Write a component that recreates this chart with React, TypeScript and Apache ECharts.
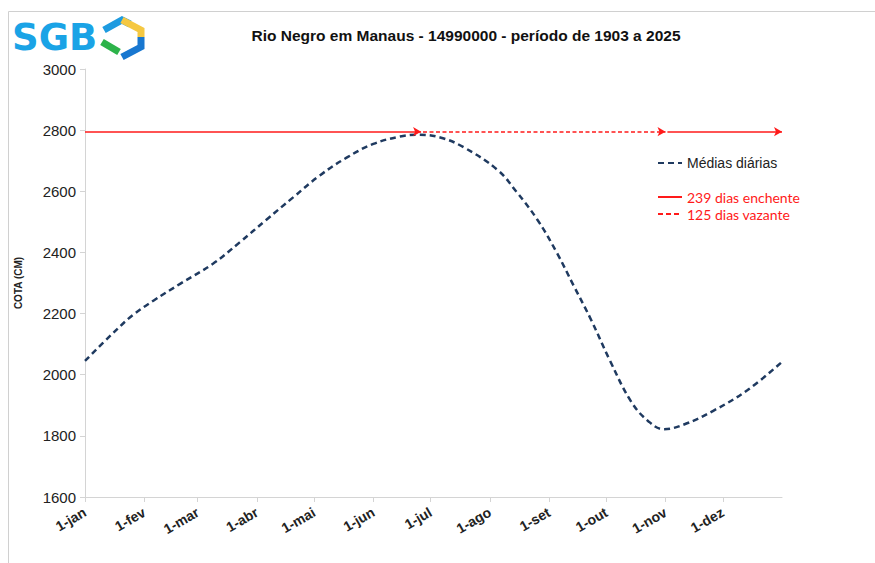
import React, { useEffect, useRef } from "react";
import * as echarts from "echarts";

const monthDays = [0, 31, 59, 90, 120, 151, 181, 212, 243, 273, 304, 334];
const monthLabels = ["1-jan", "1-fev", "1-mar", "1-abr", "1-mai", "1-jun", "1-jul", "1-ago", "1-set", "1-out", "1-nov", "1-dez"];

const days = [0, 14, 25, 36, 50, 67, 81, 95, 109, 123, 137, 151, 165, 175, 186, 198, 216, 226, 237, 247, 256, 265, 275, 286, 295, 303, 314, 329, 347, 365];
const cota = [2045, 2132, 2195, 2243, 2298, 2363, 2433, 2507, 2580, 2652, 2710, 2755, 2779, 2785, 2776, 2745, 2670, 2598, 2506, 2400, 2290, 2180, 2045, 1912, 1848, 1822, 1838, 1882, 1950, 2042];

const refLevel = 2795;
const peakDay = 176;
const minDay = 304;
const yearEnd = 365;

const yTicks = [1600, 1800, 2000, 2200, 2400, 2600, 2800, 3000];

export default function App() {
  const ref = useRef<HTMLDivElement>(null);
  useEffect(() => {
    if (!ref.current) return;
    const chart = echarts.init(ref.current, null, { renderer: "svg" });
    const red = "#FF1A1A";
    const navy = "#1F3A60";
    const arrowML = (segs: number[][]) => ({
      silent: true,
      symbol: ["none", "arrow"],
      symbolSize: [7, 8],
      label: { show: false },
      emphasis: { disabled: true },
      data: segs.map((s) => [{ coord: [s[0], refLevel] }, { coord: [s[1], refLevel] }]),
    });
    chart.setOption({
      animation: false,
      backgroundColor: "#fff",
      title: {
        text: "Rio Negro em Manaus - 14990000 - período de 1903 a 2025",
        left: 461,
        textAlign: "center",
        top: 22,
        textStyle: { fontFamily: "Liberation Sans", fontSize: 15.5, fontWeight: "bold", color: "#111" },
      },
      grid: { left: 85, right: 93, top: 69, bottom: 66 },
      legend: [
        {
          data: ["Médias diárias"],
          left: 652,
          top: 151,
          itemWidth: 24,
          itemHeight: 10,
          itemStyle: { opacity: 0 },
          textStyle: { fontFamily: "Liberation Sans", fontSize: 14, color: "#222" },
        },
        {
          data: ["239 dias enchente", "125 dias vazante"],
          orient: "vertical",
          left: 652,
          top: 185,
          itemGap: 3,
          itemWidth: 24,
          itemHeight: 10,
          itemStyle: { opacity: 0 },
          textStyle: { fontFamily: "Lato", fontSize: 14, color: red },
        },
      ],
      xAxis: {
        type: "value",
        min: 0,
        max: yearEnd,
        splitLine: { show: false },
        axisLine: { lineStyle: { color: "#D4D4D4", width: 1 } },
        axisTick: { show: true, customValues: monthDays, length: 5, lineStyle: { color: "#D4D4D4" } },
        axisLabel: {
          customValues: monthDays,
          rotate: 30,
          margin: 14,
          fontFamily: "Liberation Sans",
          fontSize: 14,
          fontWeight: "bold",
          color: "#222",
          formatter: (v: number) => monthLabels[monthDays.indexOf(v)] ?? "",
        },
      },
      yAxis: {
        type: "value",
        min: 1600,
        max: 3000,
        interval: 200,
        name: "COTA (CM)",
        nameLocation: "middle",
        nameGap: 62,
        nameTextStyle: { fontFamily: "Liberation Sans", fontSize: 10, fontWeight: "bold", color: "#222" },
        splitLine: { show: false },
        axisLine: { show: true, lineStyle: { color: "#D4D4D4", width: 1 } },
        axisTick: { show: true, length: 5, lineStyle: { color: "#D4D4D4" } },
        axisLabel: {
          fontFamily: "Liberation Sans",
          fontSize: 15,
          color: "#222",
          margin: 9,
          formatter: (v: number) => (yTicks.includes(v) ? String(v) : ""),
        },
      },
      series: [
        {
          name: "Médias diárias",
          type: "line",
          smooth: 0.4,
          symbol: "none",
          data: days.map((d, i) => [d, cota[i]]),
          lineStyle: { color: navy, width: 2.5, type: [6, 4] },
          itemStyle: { color: navy },
          z: 3,
        },
        {
          name: "239 dias enchente",
          type: "line",
          symbol: "none",
          data: [],
          lineStyle: { color: red, width: 1.5, type: "solid" },
          itemStyle: { color: red },
          markLine: {
            ...arrowML([
              [0, peakDay],
              [minDay + 1, yearEnd],
            ]),
            lineStyle: { color: red, width: 1.5, type: "solid" },
          },
        },
        {
          name: "125 dias vazante",
          type: "line",
          symbol: "none",
          data: [],
          lineStyle: { color: red, width: 1.8, type: [5, 3] },
          itemStyle: { color: red },
          markLine: {
            ...arrowML([[peakDay + 1, minDay]]),
            lineStyle: { color: red, width: 1.6, type: [4, 2.5] },
          },
        },
      ],
      graphic: [
        {
          type: "rect",
          shape: { x: 8.5, y: 11.5, width: 900, height: 600 },
          style: { fill: "none", stroke: "#D0D0D0", lineWidth: 1 },
          silent: true,
        },
        {
          type: "text",
          x: 12,
          y: 19,
          style: {
            text: "SGB",
            fontFamily: "DejaVu Sans",
            fontSize: 37,
            fontWeight: 900,
            fill: "#1AA3E6",
          },
        },
        {
          type: "polyline",
          shape: { points: [[104, 30], [122, 20], [130, 24]] },
          style: { stroke: "#1E9BE0", lineWidth: 7, fill: "none" },
        },
        {
          type: "polyline",
          shape: { points: [[122, 20], [141, 30], [141, 37]] },
          style: { stroke: "#F5C842", lineWidth: 7, fill: "none" },
        },
        {
          type: "polyline",
          shape: { points: [[141, 37], [141, 47], [122, 57]] },
          style: { stroke: "#1877D0", lineWidth: 7, fill: "none" },
        },
        {
          type: "polyline",
          shape: { points: [[102, 42], [119, 52]] },
          style: { stroke: "#2DB34A", lineWidth: 7, fill: "none" },
        },
      ],
    });
    return () => chart.dispose();
  }, []);
  return (
    <div
      ref={ref}
      style={{ position: "fixed", left: 0, top: 0, width: 875, height: 563, background: "#fff" }}
    />
  );
}
